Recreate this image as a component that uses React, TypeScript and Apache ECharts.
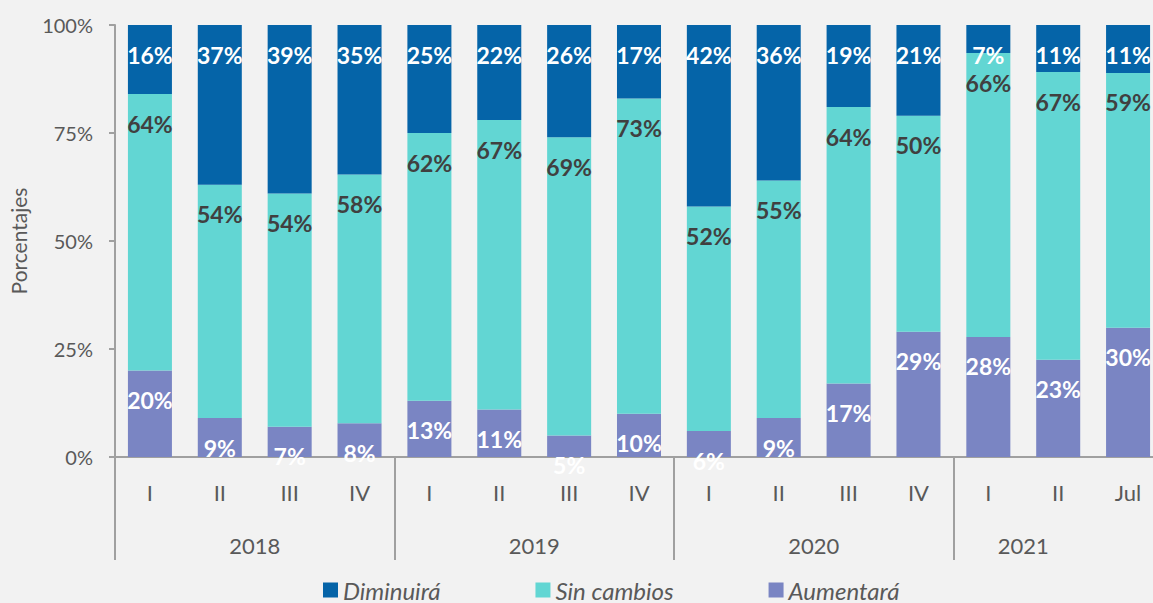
import React, { useEffect, useRef } from "react";
import * as echarts from "echarts";

const quarters = ["I", "II", "III", "IV", "I", "II", "III", "IV", "I", "II", "III", "IV", "I", "II", "Jul"];
const yearTicks = ["", "", "2018", "", "", "", "2019", "", "", "", "2020", "", "", "2021", "", ""];
const diminuira = [16, 37, 39, 34.6, 25, 22, 26, 17, 42, 36, 19, 21, 6.5, 10.9, 11.1];
const sinCambios = [64, 54, 54, 57.6, 62, 67, 69, 73, 52, 55, 64, 50, 65.7, 66.6, 59];
const aumentara = [20, 9, 7, 7.8, 13, 11, 5, 10, 6, 9, 17, 29, 27.8, 22.5, 29.9];
const yTicks = [0, 25, 50, 75, 100];

const FONT = "Lato";
const GRAY = "#595959";
const AXIS = "#A0A0A0";

export default function App() {
  const ref = useRef<HTMLDivElement>(null);
  useEffect(() => {
    if (!ref.current) return;
    const chart = echarts.init(ref.current, null, { renderer: "svg" });
    const label = (color: string) => ({
      show: true,
      position: "insideTop" as const,
      distance: 18,
      color,
      fontFamily: FONT,
      fontWeight: "bold" as const,
      fontSize: 23,
      formatter: (p: any) => Math.round(p.value) + "%",
    });
    chart.setOption({
      animation: false,
      backgroundColor: "#F2F2F2",
      textStyle: { fontFamily: FONT },
      grid: { left: 115, top: 25, width: 1048, height: 432, containLabel: false },
      legend: {
        data: ["Diminuirá", "Sin cambios", "Aumentará"],
        left: 323,
        top: 578,
        icon: "rect",
        itemWidth: 15,
        itemHeight: 15,
        itemGap: 95,
        padding: 0,
        textStyle: { fontStyle: "italic", fontSize: 24, color: GRAY, fontFamily: FONT },
      },
      xAxis: [
        {
          type: "category",
          data: quarters,
          position: "bottom",
          axisLine: { show: true, lineStyle: { color: AXIS, width: 2 } },
          axisTick: { show: false },
          axisLabel: { interval: 0, margin: 24, fontSize: 22, color: GRAY, fontFamily: FONT },
        },
        {
          type: "category",
          data: yearTicks,
          position: "bottom",
          boundaryGap: false,
          axisLine: { show: false },
          axisTick: {
            show: true,
            length: 103,
            interval: (i: number) => i % 4 === 0 && i <= 12,
            lineStyle: { color: AXIS, width: 2 },
          },
          axisLabel: { interval: 0, margin: 77, fontSize: 22, color: GRAY, fontFamily: FONT },
        },
      ],
      yAxis: {
        type: "value",
        min: yTicks[0],
        max: yTicks[yTicks.length - 1],
        interval: 25,
        name: "Porcentajes",
        nameLocation: "middle",
        nameGap: 86,
        nameTextStyle: { fontSize: 21, color: GRAY, fontFamily: FONT },
        axisLine: { show: true, lineStyle: { color: AXIS, width: 2 } },
        axisTick: { show: true, length: 6, lineStyle: { color: AXIS, width: 2 } },
        splitLine: { show: false },
        axisLabel: { margin: 22, fontSize: 20, color: GRAY, fontFamily: FONT, formatter: "{value}%" },
      },
      series: [
        {
          name: "Aumentará",
          type: "bar",
          stack: "total",
          barWidth: "63%",
          data: aumentara,
          itemStyle: { color: "#7A85C3" },
          label: label("#FFFFFF"),
        },
        {
          name: "Sin cambios",
          type: "bar",
          stack: "total",
          data: sinCambios,
          itemStyle: { color: "#62D6D3" },
          label: label("#404040"),
        },
        {
          name: "Diminuirá",
          type: "bar",
          stack: "total",
          data: diminuira,
          itemStyle: { color: "#0564A8" },
          label: label("#FFFFFF"),
        },
      ],
    });
    return () => chart.dispose();
  }, []);
  return (
    <div
      ref={ref}
      style={{ position: "fixed", left: 0, top: 0, width: 1175, height: 603, background: "#F2F2F2" }}
    />
  );
}
